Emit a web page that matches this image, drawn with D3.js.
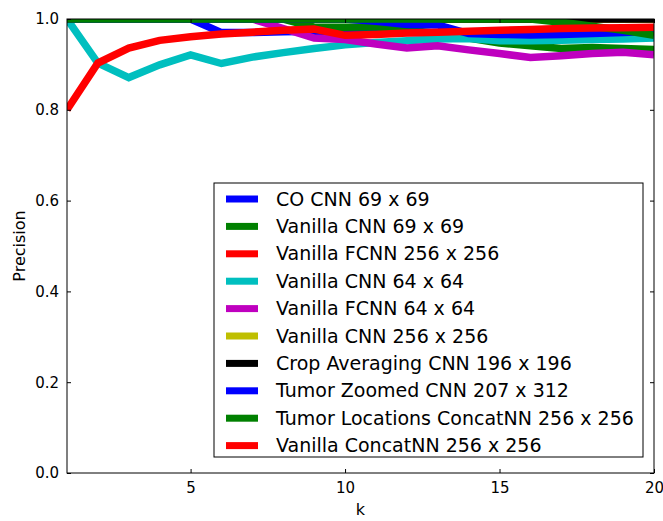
<!DOCTYPE html>
<html>
<head>
<meta charset="utf-8">
<script src="https://cdn.jsdelivr.net/npm/d3@7"></script>
<style>
  html, body { margin: 0; padding: 0; background: #fff; }
  svg { display: block; font-family: "DejaVu Sans", sans-serif; }
</style>
</head>
<body>
<svg id="chart" width="663" height="521"></svg>
<script>
// k values on the x axis
const ks = d3.range(1, 21);

// Series names (legend order = drawing order)
const seriesNames = [
  "CO CNN 69 x 69",
  "Vanilla CNN 69 x 69",
  "Vanilla FCNN 256 x 256",
  "Vanilla CNN 64 x 64",
  "Vanilla FCNN 64 x 64",
  "Vanilla CNN 256 x 256",
  "Crop Averaging CNN 196 x 196",
  "Tumor Zoomed CNN 207 x 312",
  "Tumor Locations ConcatNN 256 x 256",
  "Vanilla ConcatNN 256 x 256"
];

const seriesColors = ["#0000ff", "#008000", "#ff0000", "#00bfbf", "#bf00bf",
                      "#bfbf00", "#000000", "#0000ff", "#008000", "#ff0000"];

// Precision at k for each model
const coCnn69 = [1, 1, 1, 1, 1, 0.970, 0.970, 0.972, 0.973, 0.970, 0.970, 0.970, 0.969, 0.967, 0.966, 0.965, 0.966, 0.968, 0.970, 0.973];
const vanillaCnn69 = [1, 1, 1, 1, 1, 1, 1, 1, 0.982, 0.982, 0.983, 0.976, 0.968, 0.958, 0.947, 0.941, 0.935, 0.937, 0.935, 0.933];
const vanillaFcnn256 = [1, 1, 1, 1, 1, 1, 1, 1, 1, 1, 1, 1, 1, 1, 1, 1, 1, 1, 1, 1];
const vanillaCnn64 = [1, 0.903, 0.871, 0.899, 0.921, 0.902, 0.916, 0.926, 0.935, 0.943, 0.948, 0.952, 0.956, 0.957, 0.952, 0.952, 0.953, 0.955, 0.956, 0.958];
const vanillaFcnn64 = [1, 1, 1, 1, 1, 1, 1, 0.979, 0.958, 0.955, 0.945, 0.936, 0.941, 0.932, 0.924, 0.915, 0.919, 0.924, 0.927, 0.921];
const vanillaCnn256 = [1, 1, 1, 1, 1, 1, 1, 1, 1, 1, 1, 1, 1, 1, 1, 1, 1, 1, 1, 1];
const cropAvgCnn196 = [1, 1, 1, 1, 1, 1, 1, 1, 1, 1, 1, 1, 1, 1, 1, 1, 1, 1, 1, 1];
const tumorZoomedCnn = [1, 1, 1, 1, 1, 1, 1, 1, 1, 1, 0.995, 0.988, 0.987, 0.968, 0.966, 0.965, 0.966, 0.968, 0.970, 0.973];
const tumorLocConcat = [1, 1, 1, 1, 1, 1, 1, 1, 1, 1, 1, 1, 1, 1, 1, 1, 0.993, 0.984, 0.975, 0.964];
const vanillaConcat = [0.800, 0.903, 0.936, 0.953, 0.961, 0.967, 0.971, 0.975, 0.978, 0.964, 0.966, 0.969, 0.971, 0.973, 0.975, 0.977, 0.979, 0.980, 0.981, 0.982];

const seriesValues = [coCnn69, vanillaCnn69, vanillaFcnn256, vanillaCnn64, vanillaFcnn64,
                      vanillaCnn256, cropAvgCnn196, tumorZoomedCnn, tumorLocConcat, vanillaConcat];

const xTicks = [5, 10, 15, 20];
const yTicks = [0.0, 0.2, 0.4, 0.6, 0.8, 1.0];

const svg = d3.select("#chart");
const margin = { left: 67, top: 19, right: 9, bottom: 48 };
const W = 663, H = 521;
const x0 = margin.left, x1 = W - margin.right;
const y0 = H - margin.bottom, y1 = margin.top;

const x = d3.scaleLinear().domain([1, 20]).range([x0, x1]);
const y = d3.scaleLinear().domain([0, 1]).range([y0, y1]);

svg.append("defs").append("clipPath").attr("id", "plotClip")
  .append("rect").attr("x", x0).attr("y", y1).attr("width", x1 - x0).attr("height", y0 - y1);

// Lines
const line = d3.line().x((d, i) => x(ks[i])).y(d => y(d));
const lines = svg.append("g").attr("clip-path", "url(#plotClip)");
seriesValues.forEach((vals, i) => {
  lines.append("path")
    .attr("d", line(vals))
    .attr("fill", "none")
    .attr("stroke", seriesColors[i])
    .attr("stroke-width", 7.5)
    .attr("stroke-linejoin", "miter")
    .attr("stroke-linecap", "butt");
});

// Axes (ticks point inward, mirrored on top and right)
const tickLen = 4;
const axisFont = 15;
const gx = svg.append("g").attr("transform", `translate(0,${y0})`)
  .call(d3.axisBottom(x).tickValues(xTicks).tickSizeInner(-tickLen).tickSizeOuter(0).tickPadding(9).tickFormat(d3.format("d")));
const gxTop = svg.append("g").attr("transform", `translate(0,${y1})`)
  .call(d3.axisTop(x).tickValues(xTicks).tickSizeInner(-tickLen).tickSizeOuter(0).tickFormat(""));
const gy = svg.append("g").attr("transform", `translate(${x0},0)`)
  .call(d3.axisLeft(y).tickValues(yTicks).tickSizeInner(-tickLen).tickSizeOuter(0).tickPadding(8).tickFormat(d3.format(".1f")));
const gyRight = svg.append("g").attr("transform", `translate(${x1},0)`)
  .call(d3.axisRight(y).tickValues(yTicks).tickSizeInner(-tickLen).tickSizeOuter(0).tickFormat(""));

[gx, gxTop, gy, gyRight].forEach(g => {
  g.select(".domain").remove();
  g.selectAll("line").attr("stroke", "#000").attr("stroke-width", 1);
  g.selectAll("text").attr("font-size", axisFont).attr("fill", "#000")
    .attr("font-family", "DejaVu Sans, sans-serif");
});

// Frame
svg.append("rect")
  .attr("x", x0).attr("y", y1).attr("width", x1 - x0).attr("height", y0 - y1)
  .attr("fill", "none").attr("stroke", "#000").attr("stroke-width", 1);

// Axis labels
svg.append("text").attr("x", (x0 + x1) / 2).attr("y", 515)
  .attr("text-anchor", "middle").attr("font-size", 16).text("k");
svg.append("text").attr("transform", `translate(25,${(y0 + y1) / 2}) rotate(-90)`)
  .attr("text-anchor", "middle").attr("font-size", 16).text("Precision");

// Legend
const lg = { x: 214, y: 183, w: 429, h: 274, rowH: 27.4, first: 199 };
const legend = svg.append("g");
legend.append("rect")
  .attr("x", lg.x).attr("y", lg.y).attr("width", lg.w).attr("height", lg.h)
  .attr("fill", "#fff").attr("stroke", "#000").attr("stroke-width", 1);
seriesNames.forEach((name, i) => {
  const cy = lg.first + i * lg.rowH;
  legend.append("line")
    .attr("x1", 226).attr("x2", 258).attr("y1", cy).attr("y2", cy)
    .attr("stroke", seriesColors[i]).attr("stroke-width", 7);
  legend.append("text")
    .attr("x", 276).attr("y", cy).attr("dy", "0.35em")
    .attr("font-size", 19).attr("fill", "#000").text(name);
});
</script>
</body>
</html>
